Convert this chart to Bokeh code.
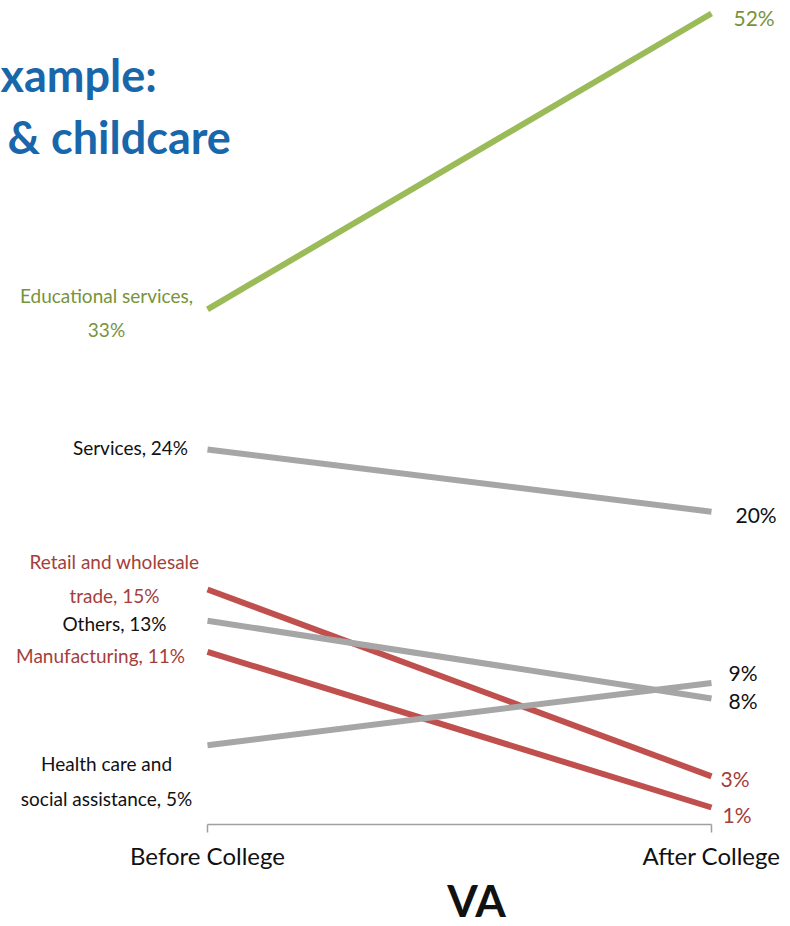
from bokeh.plotting import figure
from bokeh.layouts import column
from bokeh.models import Range1d, FixedTicker, Label, ColumnDataSource
from bokeh.embed import file_html
from bokeh.resources import INLINE
from bokeh.core.properties import value

# ---- data ----
periods = ["Before College", "After College"]
industries = ["Educational services", "Services", "Retail and wholesale trade",
              "Others", "Manufacturing", "Health care and social assistance"]
before = [33, 24, 15, 13, 11, 5]
after = [52, 20, 3, 8, 1, 9]
left_text = ["Educational services,\n33%", "Services, 24%", "Retail and wholesale\ntrade, 15%",
             "Others, 13%", "Manufacturing, 11%", "Health care and\nsocial assistance, 5%"]
right_text = [f"{v}%" for v in after]
region = "VA"
title_lines = ["xample:", "& childcare"]

# ---- styles ----
GREEN, RED, GRAY = "#9BBB59", "#C0504D", "#A6A6A6"
GREEN_T, RED_T, BLACK_T = "#77933C", "#A43E3B", "#111111"
line_colors = [GREEN, GRAY, RED, GRAY, RED, GRAY]
text_colors = [GREEN_T, BLACK_T, RED_T, BLACK_T, RED_T, BLACK_T]
left_dx = [-101, -77, -93, -93, -107, -101]
left_dy = [3, -2, -11, 3, 4, 36]
right_dx = [22, 24, 9, 17, 11, 17]
right_dy = [4, 3, 2, 2, 7, -10]

W, H = 790, 926
H_MAIN = 872
FRAME_TOP, FRAME_BOT = 0, 824
X0_PX, X1_PX = 207, 711
PPU_X = X1_PX - X0_PX
Y0_PX, PPU_Y = 822.57, 15.569

def px_x(px):
    return (px - X0_PX) / PPU_X

def px_y(py):
    return (Y0_PX - py) / PPU_Y

p = figure(width=W, height=H_MAIN, output_backend="svg", toolbar_location=None,
           x_range=Range1d(px_x(0), px_x(W)),
           y_range=Range1d(px_y(FRAME_BOT), px_y(FRAME_TOP)),
           y_axis_location=None, min_border_left=0, min_border_right=0,
           min_border_top=0, min_border_bottom=H_MAIN - FRAME_BOT,
           outline_line_color=None, background_fill_color="white",
           border_fill_color="white")
p.grid.visible = False

xs = [0, 1]
for b, a, c in zip(before, after, line_colors):
    p.line(xs, [b, a], line_color=c, line_width=6, line_cap="butt")

LABEL_FONT = "Lato"
src_l = ColumnDataSource(dict(x=[0] * len(before), y=before, t=left_text,
                              c=text_colors, dx=left_dx, dy=left_dy))
p.text(x="x", y="y", text="t", source=src_l, text_color="c", x_offset="dx", y_offset="dy",
       text_align="center", text_baseline="middle", text_font=value(LABEL_FONT),
       text_font_size="19px", text_line_height=1.5)

src_r = ColumnDataSource(dict(x=[1] * len(after), y=after, t=right_text,
                              c=text_colors, dx=right_dx, dy=right_dy))
p.text(x="x", y="y", text="t", source=src_r, text_color="c", x_offset="dx", y_offset="dy",
       text_align="left", text_baseline="middle", text_font=value(LABEL_FONT),
       text_font_size="21px")

# clipped title (only its visible part)
for t, bx, by in zip(title_lines, [0, 7], [74, 136]):
    p.add_layout(Label(x=px_x(bx), y=px_y(by), text=t,
                       text_align="left", text_baseline="alphabetic",
                       text_font="Lato", text_font_style="bold", text_font_size="45px",
                       text_color="#1767AA"))

# x axis
ax = p.xaxis[0]
ax.ticker = FixedTicker(ticks=[0, 1])
ax.major_label_overrides = {0: periods[0], 1: periods[1]}
ax.bounds = (0, 1)
ax.axis_line_color = "#A0A0A0"
ax.axis_line_width = 1.5
ax.major_tick_line_color = "#A0A0A0"
ax.major_tick_line_width = 1.5
ax.major_tick_out = 8
ax.major_tick_in = 0
ax.minor_tick_line_color = None
ax.major_label_standoff = 8
ax.major_label_text_font = "Lato"
ax.major_label_text_font_size = "24px"
ax.major_label_text_color = "#111111"

# region name below the axis
H_SUB = H - H_MAIN
q = figure(width=W, height=H_SUB, output_backend="svg", toolbar_location=None,
           x_range=Range1d(0, W), y_range=Range1d(0, H_SUB),
           x_axis_location=None, y_axis_location=None, min_border=0,
           outline_line_color=None, background_fill_color="white",
           border_fill_color="white")
q.grid.visible = False
q.add_layout(Label(x=476, y=H_SUB / 2, text=region, text_align="center",
                   text_baseline="middle", text_font="Lato", text_font_style="bold",
                   text_font_size="44px", text_color="#111111"))

open("out.html", "w").write(file_html(column(p, q, spacing=0), INLINE))
